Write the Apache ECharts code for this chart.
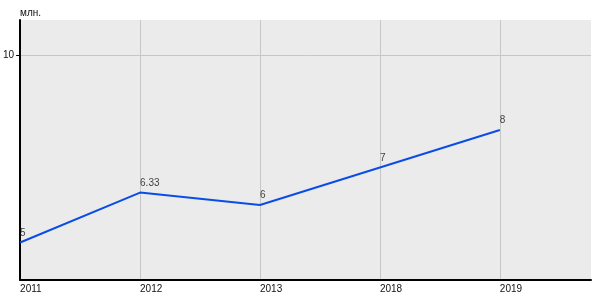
<!DOCTYPE html>
<html><head><meta charset="utf-8">
<script src="https://cdn.jsdelivr.net/npm/echarts@6/dist/echarts.min.js"></script>
<style>html,body{margin:0;padding:0;background:#fff}#c{width:600px;height:300px}</style>
</head><body><div id="c"></div>
<script>
const years = ['2011', '2012', '2013', '2018', '2019'];
const values = [5, 6.33, 6, 7, 8];
const yTicks = [10];
const unit = 'млн.';

const chart = echarts.init(document.getElementById('c'), null, {renderer: 'canvas'});
const xIdx = years.map((_, i) => i);
const fontFam = 'Liberation Sans, Arial';
chart.setOption({
  animation: false,
  grid: {left: 20, right: 9, top: 20, bottom: 20, backgroundColor: '#ebebeb', show: true, borderWidth: 0},
  xAxis: {
    type: 'value', min: 0, max: 4.76,
    axisLine: {show: true, onZero: false, lineStyle: {color: '#000', width: 2}},
    axisTick: {show: false, customValues: xIdx},
    splitLine: {show: true, lineStyle: {color: '#c6c6c6', width: 1}},
    axisLabel: {customValues: xIdx, formatter: v => years[Math.round(v)] || '', align: 'left',
      color: '#111', fontSize: 10, fontFamily: fontFam, margin: 4}
  },
  yAxis: {
    type: 'value', min: 4, max: 10.93,
    name: unit, nameLocation: 'end', nameGap: 2,
    nameTextStyle: {align: 'left', color: '#111', fontSize: 10, fontFamily: fontFam},
    axisLine: {show: true, lineStyle: {color: '#000', width: 2}},
    axisTick: {show: true, length: 4, customValues: yTicks, lineStyle: {color: '#000'}},
    splitLine: {show: true, lineStyle: {color: '#c6c6c6', width: 1}},
    axisLabel: {customValues: yTicks, color: '#111', fontSize: 10, fontFamily: fontFam, margin: 6}
  },
  series: [{
    type: 'line',
    data: values.map((v, i) => [i, v]),
    symbol: 'none',
    lineStyle: {color: '#0a4de6', width: 2}
  }, {
    type: 'scatter',
    data: values.map((v, i) => [i, v]),
    symbolSize: 1,
    itemStyle: {color: 'rgba(0,0,0,0)'},
    label: {show: true, position: 'top', align: 'left', distance: 4, formatter: p => String(p.value[1]),
      color: '#111', fontSize: 10, fontFamily: fontFam}
  }]
});
</script></body></html>
